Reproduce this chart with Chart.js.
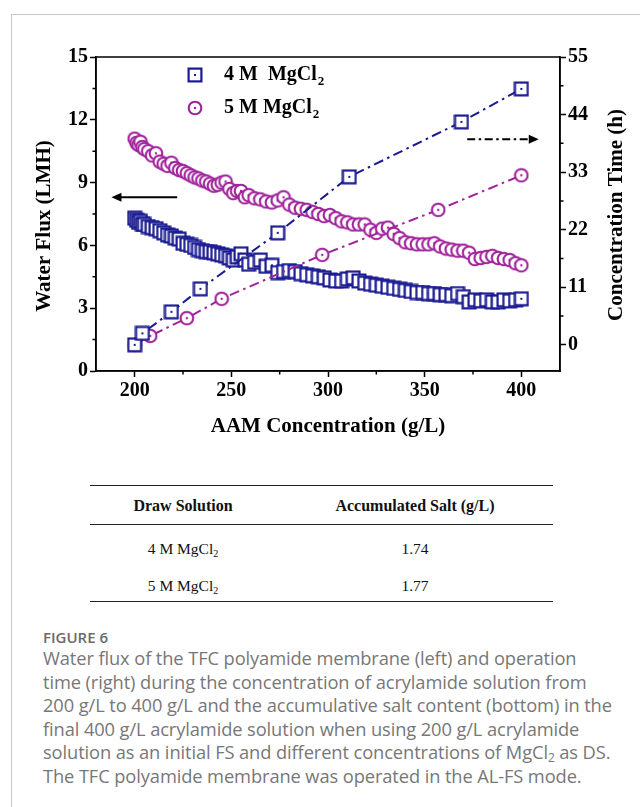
<!DOCTYPE html>
<html>
<head>
<meta charset="utf-8">
<script src="https://cdn.jsdelivr.net/npm/chart.js@4.4.1/dist/chart.umd.min.js"></script>
<style>
  html, body { margin: 0; padding: 0; background: #fff; }
  body { width: 640px; height: 807px; position: relative; overflow: hidden; }
  .frame { position: absolute; left: 11px; top: 14px; width: 700px; height: 900px; border: 1px solid #c9c9c9; }
  #chartBox { position: absolute; left: 0; top: 0; width: 640px; height: 450px; }
  .rule { position: absolute; left: 90px; width: 463px; height: 0; border-top: 1.5px solid #222; }
  .cell { position: absolute; height: 20px; line-height: 20px; text-align: center;
          font-family: 'Liberation Serif', 'Times New Roman', serif; font-size: 15.5px; color: #111; white-space: nowrap; }
  .cell.head { font-weight: bold; font-size: 16px; }
  .cell sub { font-size: 10px; vertical-align: -3px; line-height: 0; }
  .figlabel { position: absolute; left: 43px; top: 628px; font-family: 'Open Sans', 'Noto Sans', sans-serif;
              font-size: 15px; font-weight: 600; color: #6a6a6a; line-height: 18px; }
  .caption { position: absolute; left: 43px; top: 646px; font-family: 'Open Sans', 'Noto Sans', sans-serif;
             font-size: 18.3px; color: #777; line-height: 23.6px; white-space: nowrap; letter-spacing: -0.1px; }
  .caption sub { font-size: 12px; vertical-align: -3px; line-height: 0; }
</style>
</head>
<body>
<div class="frame"></div>
<div id="chartBox"><canvas id="fluxChart" width="640" height="450"></canvas></div>

<div class="rule" style="top:485px"></div>
<div class="cell head" style="left:90px;width:186px;top:496px">Draw Solution</div>
<div class="cell head" style="left:315px;width:200px;top:496px">Accumulated Salt (g/L)</div>
<div class="rule" style="top:524px"></div>
<div class="cell" style="left:90px;width:186px;top:539px">4 M MgCl<sub>2</sub></div>
<div class="cell" style="left:315px;width:200px;top:539px">1.74</div>
<div class="cell" style="left:90px;width:186px;top:576px">5 M MgCl<sub>2</sub></div>
<div class="cell" style="left:315px;width:200px;top:576px">1.77</div>
<div class="rule" style="top:601px"></div>

<div class="figlabel">FIGURE 6</div>
<div class="caption">Water flux of the TFC polyamide membrane (left) and operation<br>time (right) during the concentration of acrylamide solution from<br>200 g/L to 400 g/L and the accumulative salt content (bottom) in the<br>final 400 g/L acrylamide solution when using 200 g/L acrylamide<br>solution as an initial FS and different concentrations of MgCl<sub>2</sub> as DS.<br>The TFC polyamide membrane was operated in the AL-FS mode.</div>

<script>
// ===== data =====
const fluxConc = [200, 201, 202, 203, 204, 205,
  207, 209, 211, 213, 215, 217, 219, 221, 223, 225, 227, 229, 231, 233, 235, 237, 239, 241, 243, 245, 247, 249, 251, 253, 255, 257, 259,
  262, 265, 268, 271, 274, 277, 280, 283, 286, 289, 292, 295, 298, 301, 304, 307, 310, 313, 316, 319, 322, 325, 328, 331, 334, 337, 340,
  343, 346, 349, 352, 355, 358, 361, 364, 367, 370, 373, 376, 379, 382, 385, 388, 391, 394, 397, 400];

const flux4M = [7.30, 7.20, 7.10, 7.15, 7.00, 7.00,
  6.90, 6.85, 6.80, 6.70, 6.60, 6.50, 6.45, 6.35, 6.30, 6.10, 6.05, 6.00, 5.90, 5.80, 5.75, 5.70, 5.70, 5.65, 5.60, 5.55, 5.50, 5.40, 5.30, 5.45, 5.60, 5.30, 5.10,
  5.20, 5.30, 5.00, 5.05, 4.70, 4.75, 4.80, 4.75, 4.65, 4.60, 4.55, 4.50, 4.45, 4.35, 4.30, 4.30, 4.40, 4.45, 4.30, 4.20, 4.15, 4.10, 4.05, 4.00, 3.95, 3.90, 3.85,
  3.80, 3.75, 3.75, 3.70, 3.70, 3.65, 3.65, 3.60, 3.70, 3.55, 3.30, 3.40, 3.35, 3.40, 3.30, 3.30, 3.40, 3.35, 3.40, 3.45];

const flux5M = [11.10, 10.90, 10.80, 10.95, 10.70, 10.60,
  10.50, 10.30, 10.40, 10.00, 9.90, 9.80, 9.95, 9.70, 9.60, 9.55, 9.45, 9.35, 9.25, 9.20, 9.10, 9.05, 8.95, 8.85, 8.90, 9.00, 9.05, 8.70, 8.50, 8.60, 8.60, 8.30, 8.40,
  8.25, 8.20, 8.10, 8.05, 8.15, 8.30, 7.95, 7.80, 7.75, 7.70, 7.60, 7.50, 7.40, 7.45, 7.30, 7.15, 7.10, 7.00, 7.00, 7.00, 6.75, 6.60, 6.80, 6.85, 6.55, 6.35, 6.15,
  6.10, 6.05, 6.05, 6.05, 6.10, 5.95, 5.85, 5.80, 5.75, 5.75, 5.65, 5.35, 5.40, 5.45, 5.50, 5.40, 5.35, 5.30, 5.15, 5.05];

const timeConc4M = [200, 204, 219, 234, 274, 311, 369, 400];
const time4M = [0, 2.2, 6.3, 10.7, 21.4, 32.1, 42.6, 48.9];
const timeConc5M = [200, 208, 227, 245, 297, 357, 400];
const time5M = [0, 1.7, 5.1, 8.8, 17.2, 25.8, 32.4];

const xTicks = [200, 250, 300, 350, 400];
const xMinor = [225, 275, 325, 375];
const fluxTicks = [0, 3, 6, 9, 12, 15];
const fluxMinor = [1.5, 4.5, 7.5, 10.5, 13.5];
const timeTicks = [0, 11, 22, 33, 44, 55];
const timeMinor = [5.5, 16.5, 27.5, 38.5, 49.5];

const labels = ['4 M  MgCl\u2082', '5 M MgCl\u2082'];

// arrows pointing at the axis each group belongs to (in data units)
const fluxArrow = { from: 222, to: 188, y: 8.3 };
const timeArrow = { from: 372, to: 409, y: 39.3 };

const navy = '#1a1a92';
const purple = '#a0239b';
const serif = "'Liberation Serif', 'Times New Roman', serif";

// open symbols with a centre dot
function squareMark(color) {
    const c = document.createElement('canvas');
    c.width = 16; c.height = 16;
    const g = c.getContext('2d');
    g.fillStyle = '#fff';
    g.fillRect(1.5, 1.5, 13, 13);
    g.strokeStyle = color;
    g.lineWidth = 2.2;
    g.strokeRect(1.6, 1.6, 12.8, 12.8);
    g.fillStyle = color;
    g.fillRect(7, 7, 2, 2);
    return c;
}
function circleMark(color) {
    const c = document.createElement('canvas');
    c.width = 16; c.height = 16;
    const g = c.getContext('2d');
    g.beginPath();
    g.arc(8, 8, 6.3, 0, Math.PI * 2);
    g.fillStyle = '#fff';
    g.fill();
    g.strokeStyle = color;
    g.lineWidth = 2.1;
    g.stroke();
    g.beginPath();
    g.arc(8, 8, 1.2, 0, Math.PI * 2);
    g.fillStyle = color;
    g.fill();
    return c;
}
const sq = squareMark(navy);
const ci = circleMark(purple);

const pts = (xs, ys) => ys.map((y, i) => ({ x: xs[i], y }));

function drawArrow(ctx, x1, x2, y, dash) {
    const dir = Math.sign(x2 - x1);
    ctx.save();
    ctx.strokeStyle = '#000';
    ctx.fillStyle = '#000';
    ctx.lineWidth = 2;
    ctx.setLineDash(dash);
    ctx.beginPath();
    ctx.moveTo(x1, y);
    ctx.lineTo(x2 - dir * 8, y);
    ctx.stroke();
    ctx.setLineDash([]);
    ctx.beginPath();
    ctx.moveTo(x2, y);
    ctx.lineTo(x2 - dir * 10, y - 4.5);
    ctx.lineTo(x2 - dir * 10, y + 4.5);
    ctx.closePath();
    ctx.fill();
    ctx.restore();
}

function rotatedTitle(ctx, text, x, y) {
    ctx.save();
    ctx.translate(x, y);
    ctx.rotate(-Math.PI / 2);
    ctx.textAlign = 'center';
    ctx.textBaseline = 'middle';
    ctx.fillText(text, 0, 0);
    ctx.restore();
}

const decor = {
    id: 'decor',
    beforeDatasetsDraw(chart) {
        const a = chart.chartArea, ctx = chart.ctx;
        ctx.save();
        ctx.strokeStyle = '#000';
        ctx.lineWidth = 1.5;
        ctx.strokeRect(a.left, a.top, a.right - a.left, a.bottom - a.top);
        ctx.restore();
    },
    afterDraw(chart) {
        const ctx = chart.ctx, a = chart.chartArea;
        const sx = chart.scales.x, sy = chart.scales.y, sy2 = chart.scales.y2;
        ctx.save();
        ctx.strokeStyle = '#000';
        ctx.lineWidth = 1.5;
        ctx.beginPath();
        xMinor.forEach(v => { const p = sx.getPixelForValue(v); ctx.moveTo(p, a.bottom); ctx.lineTo(p, a.bottom + 3.5); });
        fluxMinor.forEach(v => { const p = sy.getPixelForValue(v); ctx.moveTo(a.left, p); ctx.lineTo(a.left - 3.5, p); });
        timeMinor.forEach(v => { const p = sy2.getPixelForValue(v); ctx.moveTo(a.right, p); ctx.lineTo(a.right + 3.5, p); });
        ctx.stroke();

        // axis titles
        ctx.fillStyle = '#000';
        ctx.font = 'bold 21px ' + serif;
        rotatedTitle(ctx, 'Water Flux (LMH)', 45, 226);
        rotatedTitle(ctx, 'Concentration Time (h)', 617, 215);
        ctx.textAlign = 'center';
        ctx.textBaseline = 'middle';
        ctx.fillText('AAM Concentration (g/L)', 328, 427);
        ctx.restore();

        drawArrow(ctx, sx.getPixelForValue(fluxArrow.from), sx.getPixelForValue(fluxArrow.to),
            sy.getPixelForValue(fluxArrow.y), []);
        drawArrow(ctx, sx.getPixelForValue(timeArrow.from), sx.getPixelForValue(timeArrow.to),
            sy2.getPixelForValue(timeArrow.y), [8, 3.5, 2.5, 3.5]);

        // legend for the flux symbols
        const flux = chart.data.datasets.filter(d => !d.showLine);
        ctx.save();
        flux.forEach((d, i) => {
            const y = 75 + i * 33;
            ctx.drawImage(d.pointStyle, 195 - d.pointStyle.width / 2, y - d.pointStyle.height / 2);
            const parts = d.label.split('\u2082');
            ctx.fillStyle = '#000';
            ctx.textAlign = 'left';
            ctx.textBaseline = 'middle';
            ctx.font = 'bold 20px ' + serif;
            ctx.fillText(parts[0], 224, y);
            const w = ctx.measureText(parts[0]).width;
            ctx.font = 'bold 13px ' + serif;
            ctx.fillText('2', 224 + w + 1, y + 7);
        });
        ctx.restore();
    }
};

const tickFont = { family: serif, weight: 'bold', size: 20 };
const axisGrid = { drawOnChartArea: false, tickLength: 6, tickWidth: 1.5, tickColor: '#000' };
const axisBorder = { color: '#000', width: 1.5 };
const fixTicks = vals => scale => { scale.ticks = vals.map(value => ({ value })); };

new Chart(document.getElementById('fluxChart'), {
    type: 'scatter',
    data: {
        datasets: [
            { label: labels[0] + ' time', data: pts(timeConc4M, time4M), yAxisID: 'y2', showLine: true,
              borderColor: navy, borderWidth: 2, borderDash: [10, 4.5, 2.5, 4.5], pointStyle: sq, order: 1 },
            { label: labels[1] + ' time', data: pts(timeConc5M, time5M), yAxisID: 'y2', showLine: true,
              borderColor: purple, borderWidth: 2, borderDash: [10, 4.5, 2.5, 4.5], pointStyle: ci, order: 1 },
            { label: labels[0], data: pts(fluxConc, flux4M), yAxisID: 'y', showLine: false,
              pointStyle: sq, order: 2 },
            { label: labels[1], data: pts(fluxConc, flux5M), yAxisID: 'y', showLine: false,
              pointStyle: ci, order: 2 }
        ]
    },
    options: {
        responsive: false,
        animation: false,
        layout: { padding: { top: 57, left: 0, right: 0, bottom: 0 } },
        elements: { point: { radius: 6, hoverRadius: 6 } },
        plugins: { legend: { display: false }, tooltip: { enabled: false } },
        scales: {
            x: {
                type: 'linear', position: 'bottom', min: 180, max: 420,
                afterBuildTicks: fixTicks(xTicks),
                afterFit: s => { s.height = 79; },
                grid: axisGrid, border: axisBorder,
                ticks: { font: tickFont, color: '#000', padding: 2, maxRotation: 0 }
            },
            y: {
                position: 'left', min: 0, max: 15,
                afterBuildTicks: fixTicks(fluxTicks),
                afterFit: s => { s.width = 96; },
                grid: axisGrid, border: axisBorder,
                ticks: { font: tickFont, color: '#000', padding: 2 }
            },
            y2: {
                position: 'right', min: -5, max: 55,
                afterBuildTicks: fixTicks(timeTicks),
                afterFit: s => { s.width = 80; },
                grid: axisGrid, border: axisBorder,
                ticks: { font: tickFont, color: '#000', padding: 2 }
            }
        }
    },
    plugins: [decor]
});
</script>
</body>
</html>
